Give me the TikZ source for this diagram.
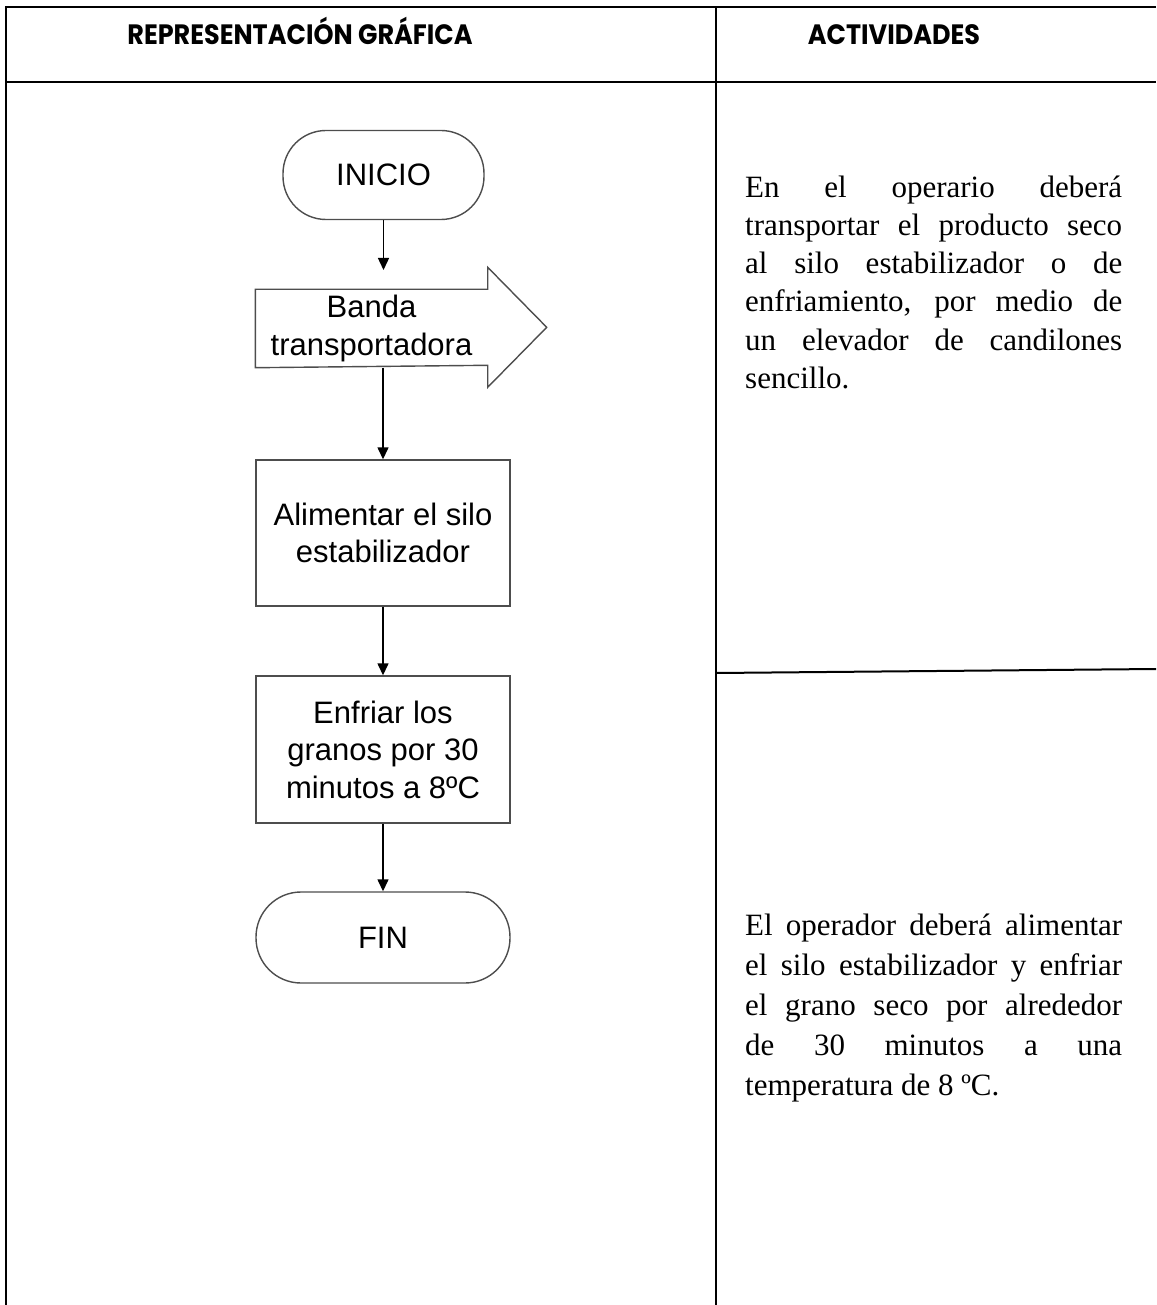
\documentclass[tikz,border=0pt]{standalone}
\usepackage{fontspec}
\setmainfont{Liberation Serif}
\newfontfamily\flujofont{Liberation Sans}
\newfontfamily\titulofont{Poppins}
\usetikzlibrary{arrows.meta}
\definecolor{borde}{HTML}{4D4D4D}
\newcommand{\cabecera}[1]{\scalebox{0.91}[1]{#1}}
\newcommand{\actividad}[2]{\parbox[t]{377pt}{\fontsize{31}{#1}\selectfont\hyphenpenalty=10000\strut #2}}

\tikzset{
  linea/.style={line width=2pt, black},
  forma/.style={draw=borde, line width=1.4pt, align=center, font=\flujofont\fontsize{31}{37.5}\selectfont},
  terminal/.style={forma, rounded corners=43pt, minimum height=89pt},
  proceso/.style={forma, minimum width=254pt, minimum height=146pt},
  flecha/.style={line width=1.4pt, -{Triangle[width=11pt,length=12pt]}},
  titulo/.style={anchor=base, inner sep=0pt, font=\titulofont\bfseries\fontsize{28}{32}\selectfont},
  texto/.style={anchor=north west, inner sep=0pt}
}

\begin{document}
\begin{tikzpicture}[x=1pt,y=-1pt]
\useasboundingbox (0,0) rectangle (1156,1305);

\draw[linea] (6,1305) -- (6,7) -- (1156,7);
\draw[linea] (716,7) -- (716,1305);
\draw[linea] (6,82) -- (1156,82);
\draw[linea] (716,673) -- (1156,669);

\node[titulo] (tgrafica) at (300,45) {\cabecera{REPRESENTACIÓN GRÁFICA}};
\node[titulo] (tactividades) at (894,45) {\cabecera{ACTIVIDADES}};

\node[terminal, minimum width=201pt] (inicio) at (383.5,175) {INICIO};
\node[forma, draw=none, minimum width=231pt, minimum height=77pt] (banda) at (371.5,328.5) {Banda\\transportadora};
\draw[draw=borde, line width=1.4pt] (banda.north west) -- (banda.north east) -- ++(0,-22) -- ++(59,60)
  -- ++(-59,60) -- ++(0,-22) -- (banda.south west) -- cycle;
\coordinate (bandatop) at (383.5,270);
\node[proceso] (alimentar) at (383,533) {Alimentar el silo\\estabilizador};
\node[proceso, minimum height=147pt] (enfriar) at (383,749.5) {Enfriar los\\granos por 30\\minutos a 8ºC};
\node[terminal, minimum width=254pt, minimum height=91pt, rounded corners=45pt] (fin) at (383,937.5) {FIN};

\draw[flecha] (inicio) -- (bandatop);
\draw[flecha] (banda.south -| alimentar.north) -- (alimentar);
\draw[flecha] (alimentar) -- (enfriar);
\draw[flecha] (enfriar) -- (fin);

\node[texto] (act1) at (745,170.3) {\actividad{38.2}{En el operario deberá\linebreak
  transportar el producto seco\linebreak al silo estabilizador o de\linebreak
  enfriamiento, por medio de\linebreak un elevador de candilones\linebreak sencillo.}};
\node[texto] (act2) at (745,907) {\actividad{40}{El operador deberá alimentar\linebreak
  el silo estabilizador y enfriar\linebreak el grano seco por alrededor\linebreak
  de 30 minutos a una\linebreak temperatura de 8 ºC.}};
\end{tikzpicture}
\end{document}
